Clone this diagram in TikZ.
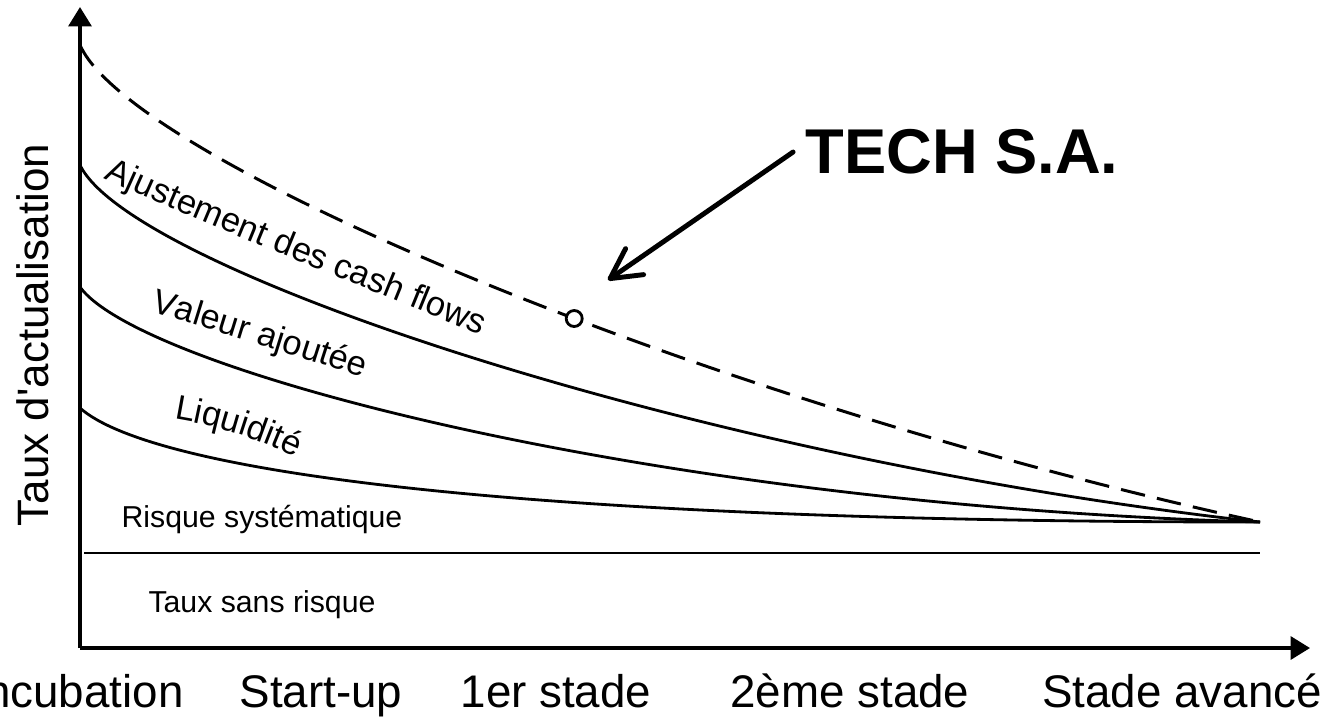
\documentclass[tikz,border=0pt]{standalone}
\usepackage{fontspec}
\setmainfont{Liberation Sans}
\usetikzlibrary{arrows.meta,decorations.text}

\tikzset{
  axis/.style={line width=1pt, -{Triangle[length=5.5pt,width=6.5pt]}},
  rate/.style={line width=0.8pt},
  curvelabel/.style={decorate, decoration={text along path, text align=left,
      text={|\fontsize{9.8}{12}\selectfont|#1}}},
  stage/.style={anchor=base, font=\fontsize{13}{15}\selectfont},
  zone/.style={anchor=base, font=\fontsize{8.6}{10}\selectfont},
  firm/.style={circle, draw, solid, line width=0.8pt, fill=white, minimum size=0.16cm, inner sep=0pt}
}

\begin{document}
\begin{tikzpicture}[x=0.01cm, y=-0.01cm]
      \useasboundingbox (0,0) rectangle (1340,720);
      \coordinate (O) at (80,648);
      \coordinate (E) at (1260,522);

      % axes
      \draw[axis] (O) -- (80,7);
      \draw[axis] (O) -- (1310,648);

      \node[rotate=90, font=\fontsize{12.5}{14}\selectfont] (ylab) at (33,335) {Taux d\textquotesingle actualisation};

      \node[stage] (s1) at (78,707) {Incubation};
      \node[stage] (s2) at (321,707) {Start-up};
      \node[stage] (s3) at (556,707) {1er stade};
      \node[stage] (s4) at (850,707) {2ème stade};
      \node[stage] (s5) at (1182,707) {Stade avancé};

      % risk free rate
      \draw[rate] (84,553) -- (1260,553);
      \node[zone] (rs) at (262,527) {Risque systématique};
      \node[zone] (rf) at (262,612) {Taux sans risque};

      % premium curves
      \draw[rate] (80,408) .. controls (150,470) and (500,522) .. (E);
      \draw[rate] (80,287) .. controls (140,370) and (650,505) .. (E);
      \draw[rate] (80,165) .. controls (130,270) and (700,460) .. (E);
      \draw[rate, line width=0.85pt, dash pattern=on 7pt off 3.5pt]
        (80,45) .. controls (130,160) and (700,400) .. (E) node[firm, pos=0.57] (pt) {};

      \path[curvelabel={Liquidité}] (174,419) .. controls (230,428) and (280,446) .. (345,482);
      \path[curvelabel={Valeur ajoutée}] (151,311) .. controls (230,336) and (330,365) .. (430,401);
      \path[curvelabel={Ajustement des cash flows}] (104,178) .. controls (220,232) and (380,292) .. (530,356);

      % firm
      \node[font=\bfseries\fontsize{18}{21}\selectfont] (tech) at (962,152) {TECH S.A.};
      \coordinate (aim) at (608,280);
      \draw[line width=1.4pt, line cap=round, -{Straight Barb[length=8.5pt,width=9pt,round]}] (tech.west) -- (aim);
\end{tikzpicture}
\end{document}
